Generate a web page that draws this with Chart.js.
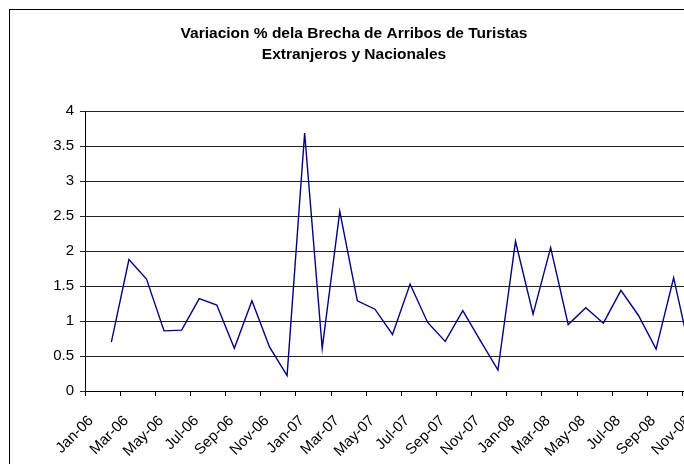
<!DOCTYPE html>
<html>
<head>
<meta charset="utf-8">
<script src="https://cdn.jsdelivr.net/npm/chart.js@4/dist/chart.umd.min.js"></script>
<style>
  html, body { margin: 0; padding: 0; background: #fff; overflow: hidden; width: 684px; height: 464px; }
  #c { display: block; }
</style>
</head>
<body>
<canvas id="c" width="708" height="480"></canvas>
<script>
// ---- Data ----
const titleLines = ['Variacion % dela Brecha de Arribos de Turistas', 'Extranjeros y Nacionales'];
const months = [
  'Jan-06','Feb-06','Mar-06','Apr-06','May-06','Jun-06','Jul-06','Aug-06','Sep-06','Oct-06','Nov-06','Dec-06',
  'Jan-07','Feb-07','Mar-07','Apr-07','May-07','Jun-07','Jul-07','Aug-07','Sep-07','Oct-07','Nov-07','Dec-07',
  'Jan-08','Feb-08','Mar-08','Apr-08','May-08','Jun-08','Jul-08','Aug-08','Sep-08','Oct-08','Nov-08'
];
const values = [
  null, 0.70, 1.88, 1.60, 0.86, 0.87, 1.32, 1.23, 0.61, 1.29, 0.63, 0.22,
  3.69, 0.61, 2.57, 1.29, 1.17, 0.81, 1.53, 0.98, 0.71, 1.15, 0.72, 0.30,
  2.14, 1.10, 2.05, 0.95, 1.19, 0.97, 1.44, 1.08, 0.60, 1.62, 0.48
];
const tickMonths = ['Jan-06','Mar-06','May-06','Jul-06','Sep-06','Nov-06','Jan-07','Mar-07','May-07','Jul-07','Sep-07','Nov-07','Jan-08','Mar-08','May-08','Jul-08','Sep-08','Nov-08'];
const yTicks = [0, 0.5, 1, 1.5, 2, 2.5, 3, 3.5, 4];

// each month occupies one slot; the point sits in the middle of its slot
const points = months.map((m, i) => ({ x: i + 0.5, y: values[i] }));

const FONT = '"Liberation Sans", Arial, sans-serif';

const borderPlugin = {
  id: 'chartBorder',
  afterDraw(chart) {
    const ctx = chart.ctx;
    ctx.save();
    ctx.strokeStyle = '#000';
    ctx.lineWidth = 1;
    ctx.strokeRect(9.5, 9.5, chart.width + 20, chart.height + 20);
    ctx.restore();
  }
};

new Chart(document.getElementById('c'), {
  type: 'line',
  data: {
    datasets: [{
      data: points,
      borderColor: '#000080',
      borderWidth: 1.4,
      pointRadius: 0,
      tension: 0,
      spanGaps: false
    }]
  },
  plugins: [borderPlugin],
  options: {
    responsive: false,
    animation: false,
    devicePixelRatio: 1,
    layout: { padding: { left: 8, right: 8, top: 0, bottom: 0 } },
    plugins: {
      legend: { display: false },
      tooltip: { enabled: false },
      title: {
        display: true,
        text: titleLines,
        color: '#000',
        font: { family: FONT, size: 15.5, weight: 'bold', lineHeight: 1.3 },
        padding: { top: 24, bottom: 47 }
      }
    },
    scales: {
      x: {
        type: 'linear',
        min: 0,
        max: months.length,
        afterBuildTicks(scale) {
          scale.ticks = tickMonths.map(m => ({ value: months.indexOf(m) }));
        },
        afterFit(scale) {
          scale.height = 89;
          scale.paddingLeft = 0;
          scale.paddingRight = 0;
        },
        ticks: {
          autoSkip: false,
          minRotation: 45,
          maxRotation: 45,
          padding: 16,
          labelOffset: 6,
          color: '#000',
          font: { family: FONT, size: 15 },
          callback: (v) => months[v]
        },
        grid: { display: true, drawOnChartArea: false, drawTicks: true, tickLength: 5, color: '#000' },
        border: { display: true, color: '#000', width: 1 }
      },
      y: {
        min: 0,
        max: 4,
        afterBuildTicks(scale) {
          scale.ticks = yTicks.map(v => ({ value: v }));
        },
        afterFit(scale) {
          scale.width = 77;
          scale.paddingTop = 0;
          scale.paddingBottom = 0;
        },
        ticks: {
          padding: 6,
          color: '#000',
          font: { family: FONT, size: 15 },
          callback: (v) => String(v)
        },
        grid: { color: '#222', lineWidth: 1, tickLength: 5 },
        border: { display: true, color: '#000', width: 1 }
      }
    }
  }
});
</script>
</body>
</html>
